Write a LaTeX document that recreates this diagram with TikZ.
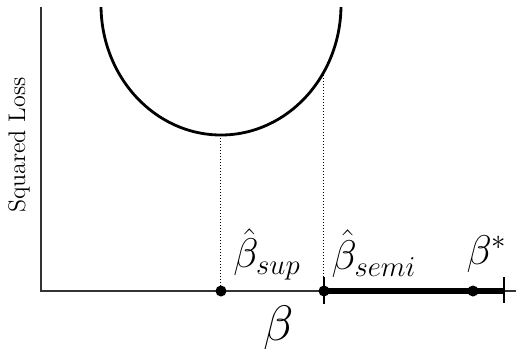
\documentclass[tikz,border=0pt]{standalone}
\usepackage{amsmath, amssymb}
\usepackage{tikz}
\usetikzlibrary{calc, positioning}

\begin{document}
\begin{tikzpicture}[x=0.5pt, y=-0.5pt, inner sep=1pt]

    % =================================================================
    % 1. KHUNG HÌNH VÀ CÁC ĐIỂM CHÍNH
    % =================================================================
    \useasboundingbox (0,0) rectangle (516,349);

    \coordinate (O) at (41,291);
    \coordinate (YTop) at (41,7);
    \coordinate (XEnd) at (516,291);

    \coordinate (Bsup) at (221,291);
    \coordinate (Bsemi) at (324,291);
    \coordinate (Bstar) at (473,291);
    \coordinate (Bend) at (504,291);

    % Điểm trên đường cong
    \coordinate (Min) at (221,135);
    \coordinate (Cut) at (324,72);

    % =================================================================
    % 2. HAI TRỤC
    % =================================================================
    \draw[line width=0.6pt, black!80] (YTop) -- (O) -- (XEnd);

    % =================================================================
    % 3. ĐƯỜNG CONG SQUARED LOSS (nửa dưới ellipse)
    % =================================================================
    \begin{scope}
        \clip (0,7) rectangle (516,349);
        \draw[line width=1.4pt] (221,5) ellipse (120 and 130);
    \end{scope}

    % Đường gióng chấm
    \draw[densely dotted, line width=0.5pt] (Min) -- (Bsup);
    \draw[densely dotted, line width=0.5pt] (Cut) -- (Bsemi);

    % =================================================================
    % 4. ĐOẠN ĐẬM VÀ CÁC VẠCH
    % =================================================================
    \draw[line width=2.6pt] (Bsemi) -- (Bend);
    \draw[line width=1pt] ($(Bsemi)+(0,-14)$) -- ($(Bsemi)+(0,13)$);
    \draw[line width=1.4pt] ($(Bend)+(0,-14)$) -- ($(Bend)+(0,12)$);

    % Các chấm tròn đen
    \fill (Bsup) circle (5.5);
    \fill (Bsemi) circle (5.5);
    \fill (Bstar) circle (5.5);

    % =================================================================
    % 5. NHÃN
    % =================================================================
    \node[font=\fontsize{22}{26}\selectfont] (Lsup) at (267,254) {$\hat{\beta}_{sup}$};
    \node[font=\fontsize{22}{26}\selectfont] (Lsemi) at (374,254) {$\hat{\beta}_{semi}$};
    \node[font=\fontsize{22}{26}\selectfont] (Lstar) at (487,254) {$\beta^{*}$};
    \node[font=\fontsize{26}{30}\selectfont] (Lbeta) at (279,328) {$\beta$};
    \node[rotate=90, font=\fontsize{12}{14}\selectfont] (Lloss) at (19,145) {Squared Loss};

\end{tikzpicture}
\end{document}
